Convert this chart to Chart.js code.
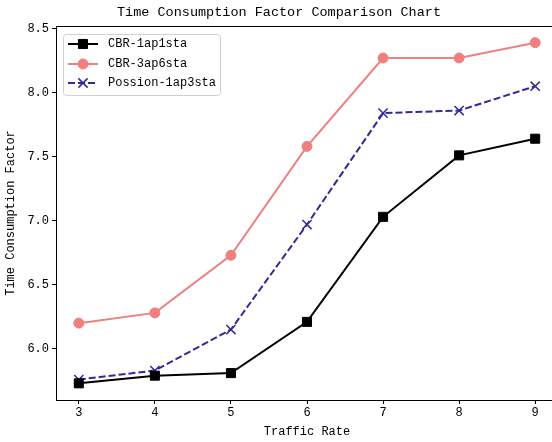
<!DOCTYPE html>
<html>
<head>
<meta charset="utf-8">
<script src="https://cdn.jsdelivr.net/npm/chart.js@4/dist/chart.umd.min.js"></script>
<style>
html,body{margin:0;padding:0;background:#fff;overflow:hidden;width:552px;height:442px;}
#wrap{position:absolute;left:0;top:0;width:600px;height:442px;}
#c{display:block;width:600px;height:442px;}
</style>
</head>
<body>
<div id="wrap"><canvas id="c" width="600" height="442"></canvas></div>
<script>
const trafficRates = [3, 4, 5, 6, 7, 8, 9];
const cbr1ap1sta = [5.73, 5.79, 5.81, 6.21, 7.03, 7.51, 7.64];
const cbr3ap6sta = [6.20, 6.28, 6.73, 7.58, 8.27, 8.27, 8.39];
const possion1ap3sta = [5.76, 5.83, 6.15, 6.97, 7.84, 7.86, 8.05];
const yTickValues = [6.0, 6.5, 7.0, 7.5, 8.0, 8.5];
const chartTitle = 'Time Consumption Factor Comparison Chart';
const xTitle = 'Traffic Rate';
const yTitle = 'Time Consumption Factor';

const FONT = "'Liberation Mono', 'DejaVu Sans Mono', monospace";
const toXY = (arr) => arr.map((v, i) => ({x: trafficRates[i], y: v}));

const extrasPlugin = {
  id: 'extras',
  afterDraw(chart) {
    const ctx = chart.ctx;
    const a = chart.chartArea;
    ctx.save();
    ctx.strokeStyle = '#000';
    ctx.lineWidth = 1;
    ctx.beginPath();
    ctx.moveTo(a.left, a.top + 0.5);
    ctx.lineTo(a.right, a.top + 0.5);
    ctx.stroke();
    const bx = 63, by = 34, bw = 157, bh = 61;
    ctx.fillStyle = 'rgba(255,255,255,0.85)';
    ctx.strokeStyle = '#d0d0d0';
    ctx.lineWidth = 1;
    ctx.beginPath();
    ctx.roundRect(bx + 0.5, by + 0.5, bw, bh, 3);
    ctx.fill();
    ctx.stroke();
    const rowsY = [44, 64, 83];
    chart.data.datasets.forEach((ds, i) => {
      const y = rowsY[i];
      ctx.save();
      ctx.strokeStyle = ds.borderColor;
      ctx.lineWidth = ds.borderWidth;
      ctx.setLineDash(ds.borderDash || []);
      ctx.beginPath();
      ctx.moveTo(68, y);
      ctx.lineTo(98, y);
      ctx.stroke();
      ctx.setLineDash([]);
      ctx.fillStyle = ds.pointBackgroundColor;
      ctx.strokeStyle = ds.pointBorderColor;
      ctx.lineWidth = ds.pointBorderWidth;
      Chart.helpers.drawPoint(ctx, {pointStyle: ds.pointStyle, radius: ds.pointRadius, rotation: 0, borderWidth: ds.pointBorderWidth}, 83, y);
      ctx.restore();
      ctx.fillStyle = '#000';
      ctx.font = '12px ' + FONT;
      ctx.textBaseline = 'middle';
      ctx.textAlign = 'left';
      ctx.fillText(ds.label, 108, y);
    });
    ctx.restore();
  }
};

new Chart(document.getElementById('c'), {
  type: 'line',
  data: {
    datasets: [
      {
        label: 'CBR-1ap1sta',
        data: toXY(cbr1ap1sta),
        borderColor: '#000000',
        borderWidth: 2,
        pointStyle: 'rect',
        pointRadius: 6.4,
        pointBackgroundColor: '#000000',
        pointBorderColor: '#000000',
        pointBorderWidth: 1,
        tension: 0
      },
      {
        label: 'CBR-3ap6sta',
        data: toXY(cbr3ap6sta),
        borderColor: '#F08080',
        borderWidth: 2,
        pointStyle: 'circle',
        pointRadius: 5,
        pointBackgroundColor: '#F08080',
        pointBorderColor: '#F08080',
        pointBorderWidth: 1,
        tension: 0
      },
      {
        label: 'Possion-1ap3sta',
        data: toXY(possion1ap3sta),
        borderColor: '#2F2B99',
        borderWidth: 2,
        borderDash: [7, 3],
        pointStyle: 'crossRot',
        pointRadius: 6.5,
        pointBackgroundColor: '#2F2B99',
        pointBorderColor: '#2F2B99',
        pointBorderWidth: 1.5,
        tension: 0
      }
    ]
  },
  options: {
    responsive: false,
    animation: false,
    devicePixelRatio: 1,
    layout: {padding: {left: 0, right: 42, top: 0, bottom: 0}},
    plugins: {
      legend: {display: false},
      tooltip: {enabled: false},
      title: {
        display: true,
        text: chartTitle,
        color: '#000',
        font: {family: FONT, size: 13.5, weight: 'normal'},
        padding: {top: 4, bottom: 5.8}
      }
    },
    scales: {
      x: {
        type: 'linear',
        min: 2.7,
        max: 9.3,
        afterBuildTicks: (s) => { s.ticks = trafficRates.map(v => ({value: v})); },
        afterFit: (s) => { s.height = 42; },
        ticks: {color: '#000', font: {family: FONT, size: 12}, padding: 2, maxRotation: 0,
          callback: (v) => String(v)},
        grid: {display: true, drawOnChartArea: false, drawTicks: true, tickLength: 4, color: '#000'},
        border: {display: true, color: '#000', width: 1},
        title: {display: true, text: xTitle, color: '#000', font: {family: FONT, size: 12}, padding: {top: 0, bottom: 3}}
      },
      y: {
        type: 'linear',
        min: 5.6,
        max: 8.52,
        afterBuildTicks: (s) => { s.ticks = yTickValues.map(v => ({value: v})); },
        afterFit: (s) => { s.width = 56; },
        ticks: {color: '#000', font: {family: FONT, size: 12}, padding: 3,
          callback: (v) => Number(v).toFixed(1)},
        grid: {display: true, drawOnChartArea: false, drawTicks: true, tickLength: 4, color: '#000'},
        border: {display: true, color: '#000', width: 1},
        title: {display: true, text: yTitle, color: '#000', font: {family: FONT, size: 12}, padding: {top: 4, bottom: 0}}
      }
    }
  },
  plugins: [extrasPlugin]
});
</script>
</body>
</html>
